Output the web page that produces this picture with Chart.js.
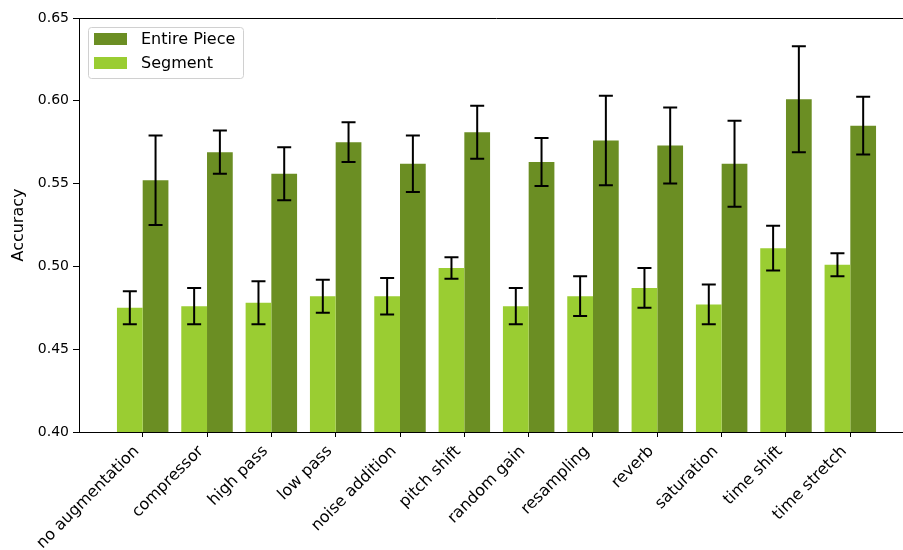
<!DOCTYPE html>
<html>
<head>
<meta charset="utf-8">
<script src="https://cdn.jsdelivr.net/npm/chart.js@4.4.1/dist/chart.umd.min.js"></script>
<style>
  html, body { margin: 0; padding: 0; background: #fff; overflow: hidden; }
  #wrap { width: 920px; height: 550px; }
</style>
</head>
<body>
<div id="wrap"><canvas id="accChart" width="920" height="550"></canvas></div>
<script>
// augmentation categories
var labels = ["no augmentation", "compressor", "high pass", "low pass", "noise addition", "pitch shift",
              "random gain", "resampling", "reverb", "saturation", "time shift", "time stretch"];

// mean accuracy + error (std) per augmentation
var segment    = [0.475, 0.476, 0.478, 0.482, 0.482, 0.499, 0.476, 0.482, 0.487, 0.477, 0.511, 0.501];
var segErr     = [0.010, 0.011, 0.013, 0.010, 0.011, 0.0065, 0.011, 0.012, 0.012, 0.012, 0.0135, 0.007];
var piece      = [0.552, 0.569, 0.556, 0.575, 0.562, 0.581, 0.563, 0.576, 0.573, 0.562, 0.601, 0.585];
var pieceErr   = [0.027, 0.013, 0.016, 0.012, 0.017, 0.016, 0.0145, 0.027, 0.023, 0.026, 0.032, 0.0175];

var yTicks = [0.40, 0.45, 0.50, 0.55, 0.60, 0.65];

Chart.defaults.font.family = "'DejaVu Sans', sans-serif";
Chart.defaults.color = '#000';

// error bars drawn on top of the bars
var errorBars = {
    id: 'errorBars',
    afterDatasetsDraw: function (chart) {
        var ctx = chart.ctx;
        var yScale = chart.scales.y;
        var errs = [segErr, pieceErr];
        ctx.save();
        ctx.strokeStyle = '#000';
        ctx.lineWidth = 2;
        for (var d = 0; d < chart.data.datasets.length; d++) {
            var meta = chart.getDatasetMeta(d);
            meta.data.forEach(function (bar, j) {
                var v = chart.data.datasets[d].data[j].y;
                var top = yScale.getPixelForValue(v + errs[d][j]);
                var bot = yScale.getPixelForValue(v - errs[d][j]);
                ctx.beginPath();
                ctx.moveTo(bar.x, top); ctx.lineTo(bar.x, bot);
                ctx.moveTo(bar.x - 7, top); ctx.lineTo(bar.x + 7, top);
                ctx.moveTo(bar.x - 7, bot); ctx.lineTo(bar.x + 7, bot);
                ctx.stroke();
            });
        }
        ctx.restore();
    }
};

// top spine + matplotlib style legend box (upper left)
var frame = {
    id: 'frame',
    afterDraw: function (chart) {
        var ctx = chart.ctx, a = chart.chartArea;
        ctx.save();
        ctx.strokeStyle = '#000';
        ctx.lineWidth = 1;
        ctx.beginPath();
        ctx.moveTo(a.left, a.top + 0.5);
        ctx.lineTo(a.right, a.top + 0.5);
        ctx.stroke();

        var x0 = a.left + 9, y0 = a.top + 9;
        ctx.fillStyle = 'rgba(255,255,255,0.8)';
        ctx.strokeStyle = '#d0d0d0';
        ctx.beginPath();
        ctx.roundRect(x0 + 0.5, y0 + 0.5, 155, 51, 3);
        ctx.fill();
        ctx.stroke();

        var ds = chart.data.datasets.slice().reverse();
        ctx.font = "16px 'DejaVu Sans', sans-serif";
        ctx.textBaseline = 'middle';
        ds.forEach(function (d, i) {
            var cy = y0 + 12 + i * 24;
            ctx.fillStyle = d.backgroundColor;
            ctx.fillRect(x0 + 6, cy - 6, 33, 12);
            ctx.fillStyle = '#000';
            ctx.fillText(d.label, x0 + 53, cy + 1);
        });
        ctx.restore();
    }
};

var ctxAcc = document.getElementById("accChart").getContext('2d');
var accChart = new Chart(ctxAcc, {
    type: 'bar',
    data: {
        datasets: [{
            label: 'Segment',
            data: segment.map(function (v, i) { return {x: i, y: v}; }),
            backgroundColor: '#9acd32'
        }, {
            label: 'Entire Piece',
            data: piece.map(function (v, i) { return {x: i, y: v}; }),
            backgroundColor: '#6b8e23'
        }]
    },
    options: {
        responsive: false,
        animation: false,
        layout: { padding: { top: 18, right: 6, left: 0, bottom: 0 } },
        datasets: { bar: { categoryPercentage: 0.8, barPercentage: 1.0 } },
        scales: {
            x: {
                type: 'linear',
                min: -0.99,
                max: 11.99,
                offset: false,
                afterBuildTicks: function (s) {
                    s.ticks = labels.map(function (_, i) { return {value: i}; });
                },
                afterFit: function (s) {
                    s.height = 118;
                    s.paddingLeft = 0;
                    s.paddingRight = 0;
                },
                grid: { drawOnChartArea: false, offset: false, tickLength: 5, color: '#000' },
                border: { color: '#000', width: 1 },
                ticks: {
                    autoSkip: false,
                    minRotation: 45,
                    maxRotation: 45,
                    padding: 5,
                    labelOffset: -6,
                    font: { size: 16 },
                    callback: function (v) { return labels[v] !== undefined ? labels[v] : ''; }
                }
            },
            y: {
                min: 0.40,
                max: 0.65,
                afterBuildTicks: function (s) {
                    s.ticks = yTicks.map(function (v) { return {value: v}; });
                },
                afterFit: function (s) { s.width = 79; },
                grid: { drawOnChartArea: false, tickLength: 6, color: '#000' },
                border: { color: '#000', width: 1 },
                ticks: {
                    padding: 4,
                    font: { size: 14 },
                    callback: function (v) { return v.toFixed(2); }
                },
                title: {
                    display: true,
                    text: 'Accuracy',
                    font: { size: 16 },
                    padding: { top: 9, bottom: 4 }
                }
            }
        },
        plugins: {
            legend: { display: false },
            tooltip: { enabled: false }
        }
    },
    plugins: [errorBars, frame]
});
</script>
</body>
</html>
